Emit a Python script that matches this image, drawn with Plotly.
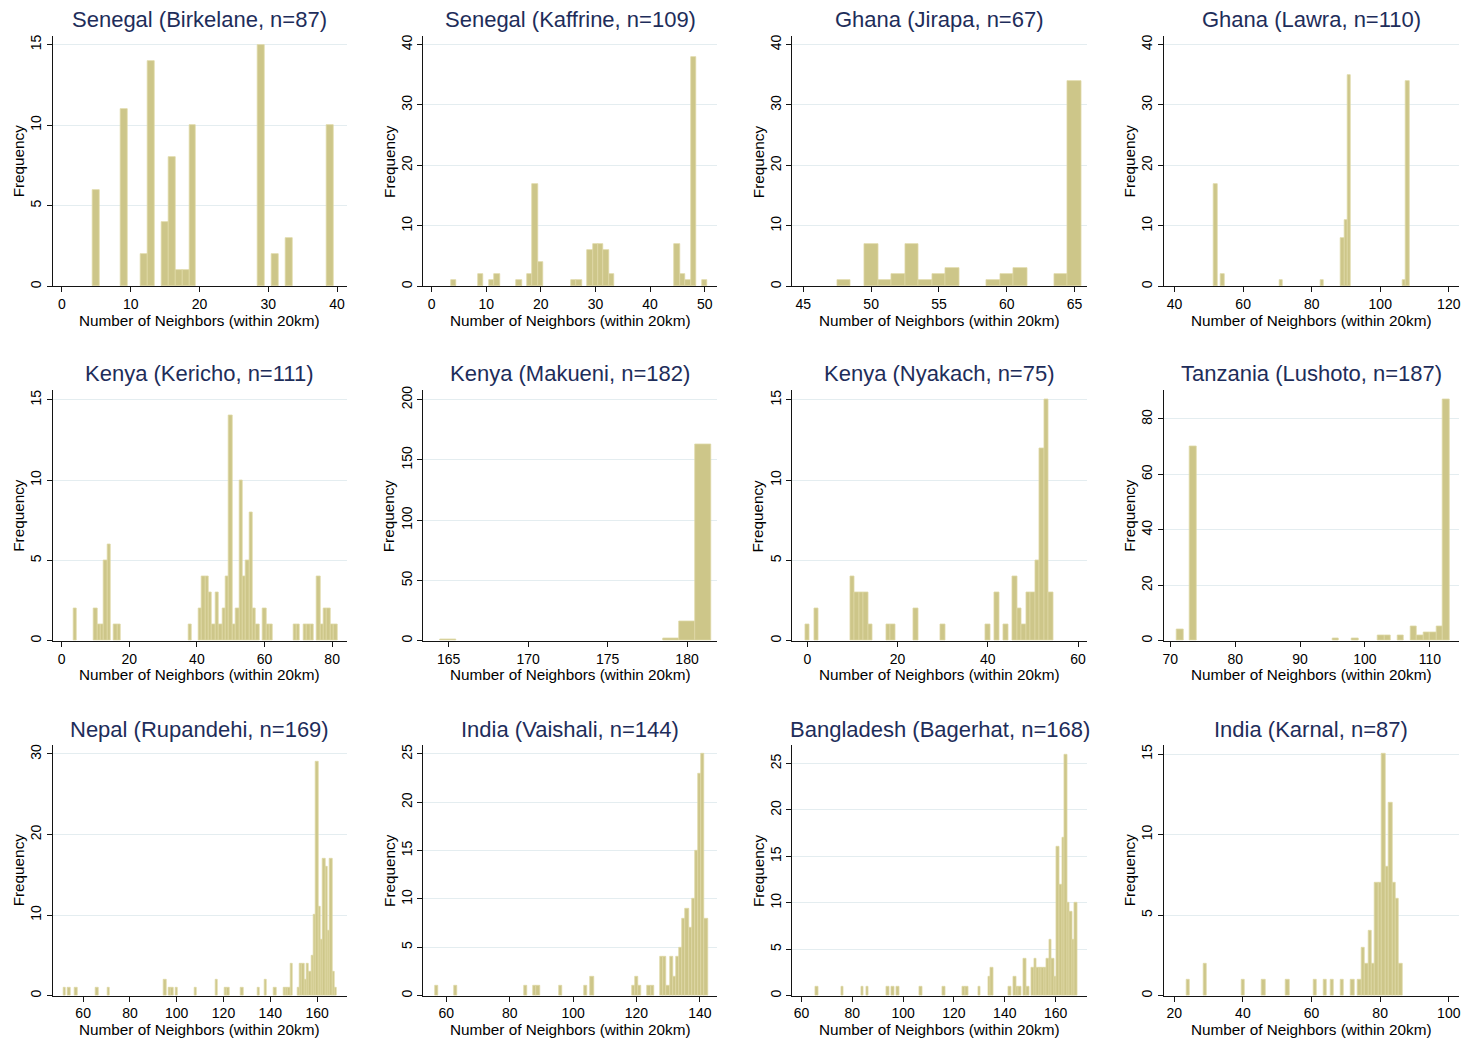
import plotly.graph_objects as go

# Page body has an 8px margin on the top/left; the figure fills the rest of the 1469x1043 window.
PAGE_W, PAGE_H = 1469, 1043
BODY = 8
W, H = PAGE_W - BODY, PAGE_H - BODY

# ---------------- data (neighbor count -> frequency) ----------------
birkelane_vals = [5, 9, 12, 13, 15, 16, 17, 18, 19, 29, 31, 33, 39]
birkelane_freq = [6, 11, 2, 14, 4, 8, 1, 1, 10, 15, 2, 3, 10]

kaffrine_vals = [4, 9, 11, 12, 16, 18, 19, 20, 26, 27, 29, 30, 31, 32, 33, 45, 46, 47, 48, 50]
kaffrine_freq = [1, 2, 1, 2, 1, 2, 17, 4, 1, 1, 6, 7, 7, 6, 2, 7, 2, 1, 38, 1]

jirapa_vals = [48, 50, 51, 52, 53, 54, 55, 56, 59, 60, 61, 64, 65]
jirapa_freq = [1, 7, 1, 2, 7, 1, 2, 3, 1, 2, 3, 2, 34]

lawra_vals = [52, 54, 71, 83, 89, 90, 91, 107, 108]
lawra_freq = [17, 2, 1, 1, 8, 11, 35, 1, 34]

kericho_vals = [4, 10, 11, 12, 13, 14, 16, 17, 38, 41, 42, 43, 44, 45, 46, 47, 48, 49, 50,
                51, 52, 53, 54, 55, 56, 57, 58, 60, 61, 62, 69, 70, 72, 73, 74, 76, 77, 78,
                79, 80, 81]
kericho_freq = [2, 2, 1, 1, 5, 6, 1, 1, 1, 2, 4, 4, 3, 1, 3, 1, 2, 4, 14,
                1, 2, 10, 4, 5, 8, 2, 1, 2, 1, 1, 1, 1, 1, 1, 1, 4, 1, 2,
                2, 1, 1]

makueni_vals = [165, 179, 180, 181]
makueni_freq = [1, 2, 16, 163]

nyakach_vals = [0, 2, 10, 11, 12, 13, 14, 18, 19, 24, 30, 40, 42, 44, 46, 47, 48, 49, 50,
                51, 52, 53, 54]
nyakach_freq = [1, 2, 4, 3, 3, 3, 1, 1, 1, 2, 1, 1, 3, 1, 4, 2, 1, 3, 3,
                5, 12, 15, 3]

lushoto_vals = [71, 73, 95, 98, 102, 103, 105, 107, 108, 109, 110, 111, 112]
lushoto_freq = [4, 70, 1, 1, 2, 2, 2, 5, 2, 3, 3, 5, 87]

rupandehi_vals = [52, 54, 57, 66, 71, 95, 97, 98, 100, 108, 117, 121, 122, 128, 135, 138,
                  142, 146, 147, 148, 149, 152, 153, 154, 155, 156, 157, 158, 159, 160,
                  161, 162, 163, 164, 165, 166, 167, 168]
rupandehi_freq = [1, 1, 1, 1, 1, 2, 1, 1, 1, 1, 2, 1, 1, 1, 1, 2,
                  1, 1, 1, 1, 4, 1, 4, 4, 2, 4, 3, 5, 10, 29,
                  11, 7, 17, 16, 8, 17, 3, 1]

vaishali_vals = [57, 63, 85, 88, 89, 96, 104, 106, 119, 120, 121, 124, 125, 128, 129, 130,
                 131, 132, 133, 134, 135, 136, 137, 138, 139, 140, 141, 142]
vaishali_freq = [1, 1, 1, 1, 1, 1, 1, 2, 1, 2, 1, 1, 1, 4, 4, 1,
                 4, 2, 4, 5, 8, 9, 7, 10, 15, 23, 25, 8]

bagerhat_vals = [66, 76, 84, 86, 94, 96, 98, 107, 116, 124, 125, 130, 134, 135, 142, 144,
                 145, 146, 148, 149, 151, 152, 153, 154, 155, 156, 157, 158, 159, 160,
                 161, 162, 163, 164, 165, 166, 167, 168]
bagerhat_freq = [1, 1, 1, 1, 1, 1, 1, 1, 1, 1, 1, 1, 2, 3, 1, 2,
                 1, 1, 4, 1, 3, 4, 3, 3, 3, 3, 4, 6, 4, 2,
                 16, 12, 17, 26, 10, 9, 6, 10]

karnal_vals = [24, 29, 40, 46, 53, 61, 64, 66, 69, 72, 74, 75, 76, 77, 78, 79, 80, 81, 82,
               83, 84, 85, 86]
karnal_freq = [1, 2, 1, 1, 1, 1, 1, 1, 1, 1, 1, 3, 2, 4, 2, 7, 7, 15, 8,
               12, 7, 6, 2]

titles = ["Senegal (Birkelane, n=87)", "Senegal (Kaffrine, n=109)", "Ghana (Jirapa, n=67)",
          "Ghana (Lawra, n=110)", "Kenya (Kericho, n=111)", "Kenya (Makueni, n=182)",
          "Kenya (Nyakach, n=75)", "Tanzania (Lushoto, n=187)", "Nepal (Rupandehi, n=169)",
          "India (Vaishali, n=144)", "Bangladesh (Bagerhat, n=168)", "India (Karnal, n=87)"]

x_ticks = [[0, 10, 20, 30, 40], [0, 10, 20, 30, 40, 50], [45, 50, 55, 60, 65],
           [40, 60, 80, 100, 120], [0, 20, 40, 60, 80], [165, 170, 175, 180],
           [0, 20, 40, 60], [70, 80, 90, 100, 110], [60, 80, 100, 120, 140, 160],
           [60, 80, 100, 120, 140], [60, 80, 100, 120, 140, 160], [20, 40, 60, 80, 100]]
y_ticks = [[0, 5, 10, 15], [0, 10, 20, 30, 40], [0, 10, 20, 30, 40], [0, 10, 20, 30, 40],
           [0, 5, 10, 15], [0, 50, 100, 150, 200], [0, 5, 10, 15], [0, 20, 40, 60, 80],
           [0, 10, 20, 30], [0, 5, 10, 15, 20, 25], [0, 5, 10, 15, 20, 25], [0, 5, 10, 15]]

x_label = "Number of Neighbors (within 20km)"
y_label = "Frequency"

series = [(birkelane_vals, birkelane_freq), (kaffrine_vals, kaffrine_freq),
          (jirapa_vals, jirapa_freq), (lawra_vals, lawra_freq),
          (kericho_vals, kericho_freq), (makueni_vals, makueni_freq),
          (nyakach_vals, nyakach_freq), (lushoto_vals, lushoto_freq),
          (rupandehi_vals, rupandehi_freq), (vaishali_vals, vaishali_freq),
          (bagerhat_vals, bagerhat_freq), (karnal_vals, karnal_freq)]

# ---------------- layout / style ----------------
x_ranges = [[-1.35, 41.45], [-1.54, 52.3], [44.19, 65.93], [36.8, 122.9],
            [-2.66, 84.4], [163.4, 181.9], [-3.32, 62.0], [68.97, 114.46],
            [46.95, 172.8], [52.7, 145.5], [56.4, 172.4], [16.9, 102.9]]
y_ranges = [[0, 15.53], [0, 41.4], [0, 41.4], [0, 41.4],
            [0, 15.58], [0, 207.7], [0, 15.58], [0, 90.3],
            [0, 31.15], [0, 25.96], [0, 27.03], [0, 15.58]]
bin_shift = [0, 0, 0, 0, 0, 0, 0, 0.5, 0, 0, 0, 0]

# positions in window pixels
COLS = [(51.7, 346.7), (423.0, 717.7), (793.0, 1088.3), (1165.0, 1460.7)]
ROWS = [(31.2, 283.2), (388.0, 640.0), (744.7, 997.3)]
TITLE_Y = [14.2, 370.7, 729.7]
XLAB_Y = [317.3, 674.5, 1031.3]

FONT = "Liberation Sans, Arial, Helvetica, sans-serif"
FILL = "rgb(205,198,137)"
EDGE = "rgb(222,216,165)"
GRID = "rgb(228,237,240)"
TITLE_COLOR = "rgb(30,45,90)"
AXIS_COLOR = "rgb(20,20,20)"


def px_x(v):
    return (v - BODY) / W


def px_y(v):
    return 1 - (v - BODY) / H


fig = go.Figure()
annotations = []
layout = {}

for i, ((vals, freq), title) in enumerate(zip(series, titles)):
    r, c = divmod(i, 4)
    n = i + 1
    xk = "xaxis" if n == 1 else f"xaxis{n}"
    yk = "yaxis" if n == 1 else f"yaxis{n}"
    xref = "x" if n == 1 else f"x{n}"
    yref = "y" if n == 1 else f"y{n}"
    cx0, cx1 = COLS[c]
    ry0, ry1 = ROWS[r]

    fig.add_trace(go.Bar(
        x=[v + bin_shift[i] for v in vals], y=freq, width=1,
        marker=dict(color=FILL, line=dict(color=EDGE, width=0.8)),
        xaxis=xref, yaxis=yref, showlegend=False, hoverinfo="x+y"))

    layout[xk] = dict(
        domain=[px_x(cx0), px_x(cx1)], anchor=yref, range=x_ranges[i],
        tickmode="array", tickvals=x_ticks[i], showgrid=False, zeroline=False,
        showline=True, linecolor=AXIS_COLOR, linewidth=1,
        ticks="outside", ticklen=5, tickwidth=1, tickcolor=AXIS_COLOR,
        ticklabeloverflow="allow",
        tickfont=dict(family=FONT, size=14, color="black"), fixedrange=True)
    layout[yk] = dict(
        domain=[px_y(ry1), px_y(ry0)], anchor=xref, range=y_ranges[i],
        tickmode="array", tickvals=y_ticks[i], showgrid=True, gridcolor=GRID,
        gridwidth=1, zeroline=False, showline=True, linecolor=AXIS_COLOR,
        linewidth=1, ticks="outside", ticklen=5, tickwidth=1, tickcolor=AXIS_COLOR,
        tickangle=-90,
        tickfont=dict(family=FONT, size=14, color="black"), fixedrange=True)

    annotations.append(dict(
        text=title, x=px_x((cx0 + cx1) / 2), y=px_y(TITLE_Y[r]), xref="paper",
        yref="paper", xanchor="center", yanchor="middle", showarrow=False,
        font=dict(family=FONT, size=22, color=TITLE_COLOR)))
    annotations.append(dict(
        text=x_label, x=px_x((cx0 + cx1) / 2), y=px_y(XLAB_Y[r]), xref="paper",
        yref="paper", xanchor="center", yanchor="middle", showarrow=False,
        font=dict(family=FONT, size=15.3, color="black")))
    annotations.append(dict(
        text=y_label, x=px_x(cx0 - 34.5), y=px_y((ry0 + ry1) / 2), xref="paper",
        yref="paper", xanchor="center", yanchor="middle", showarrow=False,
        textangle=-90, font=dict(family=FONT, size=15.3, color="black")))

fig.update_layout(
    width=W, height=H, autosize=False,
    margin=dict(l=0, r=0, t=0, b=0, pad=0),
    paper_bgcolor="white", plot_bgcolor="white",
    bargap=0, annotations=annotations, font=dict(family=FONT),
    **layout)

fig.write_html("out.html")
